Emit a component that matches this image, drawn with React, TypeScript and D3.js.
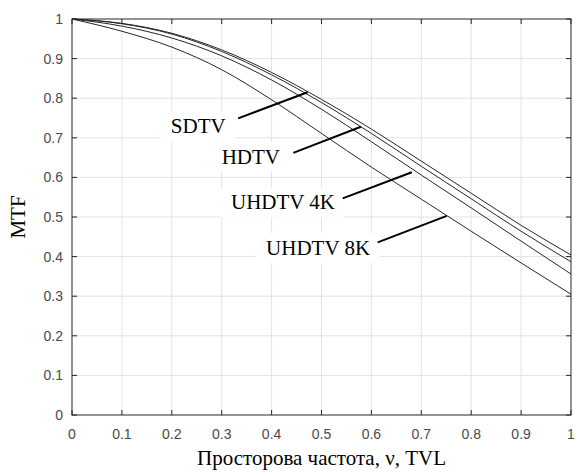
import React, { useEffect, useRef } from "react";
import * as d3 from "d3";

// spatial frequency, TVL (normalised)
const freq = [0, 0.1, 0.2, 0.3, 0.4, 0.5, 0.6, 0.7, 0.8, 0.9, 1];

// MTF curves
const mtfSDTV = [1, 0.989, 0.964, 0.922, 0.865, 0.797, 0.722, 0.641, 0.56, 0.479, 0.404];
const mtfHDTV = [1, 0.988, 0.962, 0.918, 0.859, 0.789, 0.711, 0.628, 0.546, 0.464, 0.387];
const mtf4K = [1, 0.982, 0.952, 0.907, 0.846, 0.772, 0.69, 0.606, 0.523, 0.439, 0.356];
const mtf8K = [1, 0.969, 0.929, 0.872, 0.796, 0.711, 0.626, 0.545, 0.464, 0.384, 0.305];

const xTicks = [0, 0.1, 0.2, 0.3, 0.4, 0.5, 0.6, 0.7, 0.8, 0.9, 1];
const yTicks = [0, 0.1, 0.2, 0.3, 0.4, 0.5, 0.6, 0.7, 0.8, 0.9, 1];

// annotations (data coordinates)
const labelNames = ["SDTV", "HDTV", "UHDTV 4K", "UHDTV 8K"];
const labelPos = [
  [0.198, 0.711],
  [0.3, 0.634],
  [0.3186, 0.519],
  [0.389, 0.404],
];
const leaderFrom = [
  [0.333, 0.749],
  [0.4435, 0.662],
  [0.5425, 0.547],
  [0.6126, 0.436],
];
const leaderTo = [
  [0.472, 0.815],
  [0.579, 0.728],
  [0.681, 0.613],
  [0.751, 0.503],
];

const W = 576;
const H = 474;

export default function App() {
  const ref = useRef<SVGSVGElement>(null);

  useEffect(() => {
    if (!ref.current) return;
    const margin = { top: 19, right: 5, bottom: 59, left: 72 };
    const chartWidth = W - margin.left - margin.right;
    const chartHeight = H - margin.top - margin.bottom;

    const root = d3.select(ref.current);
    root.selectAll("*").remove();
    root.append("rect").attr("width", W).attr("height", H).attr("fill", "#fff");

    const svg = root
      .append("g")
      .attr("transform", `translate(${margin.left},${margin.top})`);

    const x = d3.scaleLinear().domain([0, 1]).range([0, chartWidth]);
    const y = d3.scaleLinear().domain([0, 1]).range([chartHeight, 0]);

    // Grid
    svg
      .append("g")
      .selectAll("line.vg")
      .data(xTicks.slice(1, -1))
      .enter()
      .append("line")
      .attr("x1", (d) => x(d))
      .attr("x2", (d) => x(d))
      .attr("y1", 0)
      .attr("y2", chartHeight)
      .attr("stroke", "#e3e3e3")
      .attr("stroke-width", 1);
    svg
      .append("g")
      .selectAll("line.hg")
      .data(yTicks.slice(1, -1))
      .enter()
      .append("line")
      .attr("x1", 0)
      .attr("x2", chartWidth)
      .attr("y1", (d) => y(d))
      .attr("y2", (d) => y(d))
      .attr("stroke", "#e3e3e3")
      .attr("stroke-width", 1);

    // Curves
    const line = d3
      .line<number>()
      .x((_, i) => x(freq[i]))
      .y((d) => y(d))
      .curve(d3.curveMonotoneX);

    [mtfSDTV, mtfHDTV, mtf4K, mtf8K].forEach((series) => {
      svg
        .append("path")
        .datum(series)
        .attr("fill", "none")
        .attr("stroke", "#262626")
        .attr("stroke-width", 1)
        .attr("d", line);
    });

    // Labels with white boxes
    labelNames.forEach((name, i) => {
      const g = svg.append("g");
      const box = g.append("rect").attr("fill", "#fff");
      const t = g
        .append("text")
        .attr("x", x(labelPos[i][0]))
        .attr("y", y(labelPos[i][1]))
        .attr("font-family", "'Liberation Serif', 'Times New Roman', serif")
        .attr("font-size", 21)
        .attr("fill", "#000")
        .text(name);
      const bb = (t.node() as SVGTextElement).getBBox();
      box
        .attr("x", bb.x - 10)
        .attr("y", bb.y - 3)
        .attr("width", bb.width + 20)
        .attr("height", bb.height + 6);
    });

    // Leader lines
    leaderFrom.forEach((p, i) => {
      svg
        .append("line")
        .attr("x1", x(p[0]))
        .attr("y1", y(p[1]))
        .attr("x2", x(leaderTo[i][0]))
        .attr("y2", y(leaderTo[i][1]))
        .attr("stroke", "#000")
        .attr("stroke-width", 2);
    });

    // Axes box
    svg
      .append("rect")
      .attr("x", 0)
      .attr("y", 0)
      .attr("width", chartWidth)
      .attr("height", chartHeight)
      .attr("fill", "none")
      .attr("stroke", "#262626")
      .attr("stroke-width", 1);

    const tickLen = 5;
    const ticks = svg.append("g").attr("stroke", "#262626").attr("stroke-width", 1);
    xTicks.forEach((d) => {
      ticks.append("line").attr("x1", x(d)).attr("x2", x(d)).attr("y1", chartHeight).attr("y2", chartHeight - tickLen);
      ticks.append("line").attr("x1", x(d)).attr("x2", x(d)).attr("y1", 0).attr("y2", tickLen);
    });
    yTicks.forEach((d) => {
      ticks.append("line").attr("x1", 0).attr("x2", tickLen).attr("y1", y(d)).attr("y2", y(d));
      ticks.append("line").attr("x1", chartWidth).attr("x2", chartWidth - tickLen).attr("y1", y(d)).attr("y2", y(d));
    });

    const tickFont = "'Liberation Sans', Arial, sans-serif";
    svg
      .append("g")
      .selectAll("text")
      .data(xTicks)
      .enter()
      .append("text")
      .attr("x", (d) => x(d))
      .attr("y", chartHeight + 24)
      .attr("text-anchor", "middle")
      .attr("font-family", tickFont)
      .attr("font-size", 14)
      .attr("fill", "#4a4a4a")
      .text((d) => String(d));
    svg
      .append("g")
      .selectAll("text")
      .data(yTicks)
      .enter()
      .append("text")
      .attr("x", -9)
      .attr("y", (d) => y(d))
      .attr("dy", "0.35em")
      .attr("text-anchor", "end")
      .attr("font-family", tickFont)
      .attr("font-size", 14)
      .attr("fill", "#4a4a4a")
      .text((d) => String(d));

    // Axis titles
    svg
      .append("text")
      .attr("x", chartWidth / 2)
      .attr("y", chartHeight + 50)
      .attr("text-anchor", "middle")
      .attr("font-family", "'Liberation Serif', 'Times New Roman', serif")
      .attr("font-size", 21)
      .attr("fill", "#000")
      .text("Просторова частота, ν, TVL");
    svg
      .append("text")
      .attr("transform", `translate(${-47},${chartHeight / 2}) rotate(-90)`)
      .attr("text-anchor", "middle")
      .attr("font-family", "'Liberation Serif', 'Times New Roman', serif")
      .attr("font-size", 21)
      .attr("fill", "#000")
      .text("MTF");
  }, []);

  return (
    <svg
      ref={ref}
      width={W}
      height={H}
      style={{ position: "absolute", left: 0, top: 0 }}
    />
  );
}
